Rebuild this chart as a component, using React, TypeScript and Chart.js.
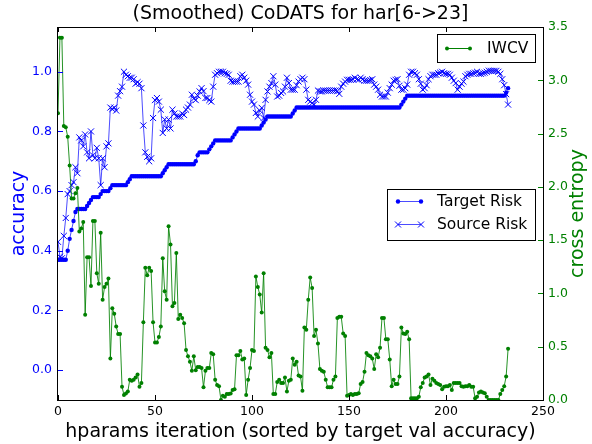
import { useEffect, useRef } from "react";
import { Chart, registerables } from "chart.js";
Chart.register(...registerables);

const TITLE = "(Smoothed) CoDATS for har[6->23]";
const X_LABEL = "hparams iteration (sorted by target val accuracy)";
const Y_LABEL = "accuracy";
const Y2_LABEL = "cross entropy";
const X_TICKS = [0, 50, 100, 150, 200, 250];
const ACC_TICKS = [0.0, 0.2, 0.4, 0.6, 0.8, 1.0];
const CE_TICKS = [0.0, 0.5, 1.0, 1.5, 2.0, 2.5, 3.0, 3.5];

const TARGET_RISK = [
  0.37, 0.37, 0.37, 0.37, 0.37, 0.40, 0.44, 0.47, 0.50, 0.53,
  0.54, 0.54, 0.54, 0.54, 0.54, 0.55, 0.56, 0.57, 0.58, 0.58,
  0.58, 0.58, 0.59, 0.60, 0.60, 0.60, 0.60, 0.61, 0.62, 0.62,
  0.62, 0.62, 0.62, 0.62, 0.62, 0.62, 0.63, 0.64, 0.65, 0.65,
  0.65, 0.65, 0.65, 0.65, 0.65, 0.65, 0.65, 0.65, 0.65, 0.65,
  0.65, 0.65, 0.65, 0.65, 0.66, 0.67, 0.68, 0.69, 0.69, 0.69,
  0.69, 0.69, 0.69, 0.69, 0.69, 0.69, 0.69, 0.69, 0.69, 0.69,
  0.69, 0.70, 0.72, 0.73, 0.73, 0.73, 0.73, 0.73, 0.74, 0.75,
  0.76, 0.77, 0.77, 0.77, 0.77, 0.77, 0.77, 0.77, 0.77, 0.77,
  0.78, 0.79, 0.80, 0.81, 0.81, 0.81, 0.81, 0.81, 0.81, 0.81,
  0.81, 0.81, 0.81, 0.81, 0.81, 0.82, 0.83, 0.84, 0.85, 0.85,
  0.85, 0.85, 0.85, 0.85, 0.85, 0.85, 0.85, 0.85, 0.85, 0.85,
  0.85, 0.86, 0.87, 0.88, 0.88, 0.88, 0.88, 0.88, 0.88, 0.88,
  0.88, 0.88, 0.88, 0.88, 0.88, 0.88, 0.88, 0.88, 0.88, 0.88,
  0.88, 0.88, 0.88, 0.88, 0.88, 0.88, 0.88, 0.88, 0.88, 0.88,
  0.88, 0.88, 0.88, 0.88, 0.88, 0.88, 0.88, 0.88, 0.88, 0.88,
  0.88, 0.88, 0.88, 0.88, 0.88, 0.88, 0.88, 0.88, 0.88, 0.88,
  0.88, 0.88, 0.88, 0.88, 0.88, 0.88, 0.88, 0.89, 0.90, 0.91,
  0.92, 0.92, 0.92, 0.92, 0.92, 0.92, 0.92, 0.92, 0.92, 0.92,
  0.92, 0.92, 0.92, 0.92, 0.92, 0.92, 0.92, 0.92, 0.92, 0.92,
  0.92, 0.92, 0.92, 0.92, 0.92, 0.92, 0.92, 0.92, 0.92, 0.92,
  0.92, 0.92, 0.92, 0.92, 0.92, 0.92, 0.92, 0.92, 0.92, 0.92,
  0.92, 0.92, 0.92, 0.92, 0.92, 0.92, 0.92, 0.92, 0.92, 0.92,
  0.92, 0.93, 0.945,
];

const SOURCE_RISK = [
  0.43, 0.38, 0.375, 0.45, 0.51, 0.59, 0.60, 0.62, 0.63, 0.68,
  0.66, 0.78, 0.77, 0.75, 0.79, 0.73, 0.71, 0.80, 0.72, 0.71,
  0.745, 0.71, 0.62, 0.71, 0.68, 0.75, 0.76, 0.88, 0.875, 0.88,
  0.87, 0.92, 0.935, 0.95, 1.00, 0.99, 0.985, 0.98, 0.98, 0.975,
  0.96, 0.965, 0.96, 0.945, 0.82, 0.73, 0.715, 0.70, 0.71, 0.845,
  0.905, 0.912, 0.90, 0.873, 0.795, 0.84, 0.81, 0.84, 0.81, 0.873,
  0.86, 0.85, 0.85, 0.85, 0.86, 0.855, 0.873, 0.88, 0.89, 0.923,
  0.91, 0.905, 0.92, 0.934, 0.945, 0.935, 0.912, 0.912, 0.905, 0.90,
  0.95, 0.99, 0.995, 1.00, 1.00, 1.00, 0.995, 0.993, 0.99, 0.97,
  0.967, 0.967, 0.967, 0.967, 0.985, 0.99, 0.98, 0.97, 0.957, 0.923,
  0.90, 0.89, 0.862, 0.85, 0.87, 0.879, 0.845, 0.906, 0.934, 0.95,
  0.962, 0.985, 0.957, 0.917, 0.92, 0.929, 0.934, 0.95, 0.98, 0.962,
  0.94, 0.94, 0.94, 0.955, 0.967, 0.975, 0.98, 0.975, 0.94, 0.906,
  0.90, 0.895, 0.89, 0.906, 0.937, 0.934, 0.934, 0.937, 0.937, 0.937,
  0.937, 0.937, 0.937, 0.937, 0.935, 0.926, 0.95, 0.96, 0.967, 0.973,
  0.973, 0.973, 0.975, 0.98, 0.975, 0.973, 0.98, 0.975, 0.97, 0.97,
  0.97, 0.972, 0.975, 0.957, 0.95, 0.94, 0.923, 0.917, 0.917, 0.917,
  0.93, 0.945, 0.957, 0.97, 0.973, 0.975, 0.953, 0.94, 0.94, 0.945,
  0.957, 0.99, 1.00, 1.00, 0.995, 0.99, 0.975, 0.96, 0.94, 0.945,
  0.955, 0.975, 0.985, 0.99, 0.99, 0.99, 0.995, 0.997, 1.00, 0.995,
  0.993, 0.993, 0.99, 0.98, 0.97, 0.962, 0.94, 0.95, 0.96, 0.967,
  0.985, 0.99, 0.993, 0.993, 0.995, 0.997, 1.00, 0.993, 0.993, 0.995,
  0.997, 1.00, 1.003, 1.003, 1.003, 1.003, 1.003, 1.00, 0.993, 0.975,
  0.955, 0.925, 0.89,
];

const IWCV = [
  2.69, 3.40, 3.40, 2.57, 2.56, 2.47, 2.20, 1.89, 1.89, 1.94,
  1.99, 1.58, 1.61, 1.67, 0.80, 1.34, 1.34, 1.07, 1.68, 1.68,
  1.19, 1.09, 1.57, 0.94, 1.06, 1.09, 1.14, 0.39, 0.86, 0.81,
  0.69, 0.62, 0.62, 0.125, 0.047, 0.06, 0.08, 0.19, 0.18, 0.19,
  0.21, 0.24, 0.125, 0.16, 0.73, 1.24, 1.17, 1.24, 1.21, 0.73,
  0.54, 0.54, 0.59, 0.69, 1.33, 1.02, 0.94, 1.63, 1.46, 0.88,
  0.91, 1.38, 0.76, 0.80, 0.77, 0.72, 0.47, 0.41, 0.36, 0.275,
  0.41, 0.28, 0.31, 0.31, 0.30, 0.12, 0.275, 0.30, 0.30, 0.44,
  0.43, 0.19, 0.14, 0.13, 0.0, 0.04, 0.03, 0.056, 0.056, 0.06,
  0.094, 0.10, 0.42, 0.42, 0.46, 0.38, 0.39, 0.047, 0.19, 0.30,
  0.47, 0.46, 1.16, 1.06, 0.99, 0.82, 1.19, 0.49, 0.47, 0.40,
  0.44, 0.056, 0.056, 0.17, 0.19, 0.16, 0.16, 0.21, 0.08, 0.18,
  0.19, 0.39, 0.33, 0.36, 0.23, 0.22, 0.087, 0.68, 0.66, 0.94,
  1.15, 1.05, 0.60, 0.66, 0.53, 0.29, 0.275, 0.265, 0.19, 0.12,
  0.12, 0.12, 0.19, 0.22, 0.77, 0.78, 0.78, 0.625, 0.60, 0.04,
  0.047, 0.056, 0.047, 0.056, 0.056, 0.063, 0.15, 0.17, 0.265, 0.44,
  0.42, 0.41, 0.39, 0.29, 0.43, 0.40, 0.49, 0.77, 0.77, 0.57,
  0.57, 0.38, 0.13, 0.19, 0.15, 0.15, 0.22, 0.68, 0.625, 0.62,
  0.64, 0.57, 0.016, 0.016, 0.016, 0.016, 0.03, 0.12, 0.16, 0.21,
  0.22, 0.24, 0.14, 0.20, 0.18, 0.16, 0.15, 0.14, 0.10, 0.125,
  0.13, 0.13, 0.14, 0.094, 0.16, 0.16, 0.16, 0.16, 0.13, 0.125,
  0.13, 0.13, 0.14, 0.125, 0.125, 0.016, 0.03, 0.07, 0.08, 0.07,
  0.063, 0.03, 0.0, 0.0, 0.0, 0.0, 0.0, 0.0, 0.056, 0.094,
  0.13, 0.22, 0.48,
];

const BLUE = "#0000ff";
const GREEN = "#008000";
const FONT = '"DejaVu Sans", sans-serif';

const toPoints = (arr: number[]) => arr.map((v, i) => ({ x: i, y: v }));

const decor = {
  id: "decor",
  beforeDraw(chart: any) {
    const ctx = chart.ctx;
    ctx.save();
    ctx.fillStyle = "#ffffff";
    ctx.fillRect(0, 0, chart.width, chart.height);
    ctx.restore();
  },
  afterDraw(chart: any) {
    const ctx = chart.ctx;
    const { left, right, top, bottom } = chart.chartArea;
    const xs = chart.scales.x;
    const ys = chart.scales.y;
    const y2 = chart.scales.y2;
    ctx.save();
    // ticks inward
    ctx.lineWidth = 1;
    ctx.strokeStyle = "#000";
    X_TICKS.forEach((v) => {
      const px = Math.round(xs.getPixelForValue(v)) + 0.5;
      ctx.beginPath();
      ctx.moveTo(px, bottom);
      ctx.lineTo(px, bottom - 5);
      ctx.moveTo(px, top);
      ctx.lineTo(px, top + 5);
      ctx.stroke();
    });
    ctx.strokeStyle = BLUE;
    ACC_TICKS.forEach((v) => {
      const py = Math.round(ys.getPixelForValue(v)) + 0.5;
      ctx.beginPath();
      ctx.moveTo(left, py);
      ctx.lineTo(left + 5, py);
      ctx.stroke();
    });
    ctx.strokeStyle = GREEN;
    CE_TICKS.forEach((v) => {
      const py = Math.round(y2.getPixelForValue(v)) + 0.5;
      ctx.beginPath();
      ctx.moveTo(right, py);
      ctx.lineTo(right - 5, py);
      ctx.stroke();
    });
    // frame
    ctx.strokeStyle = "#000";
    ctx.strokeRect(left - 0.5, top + 0.5, right - left + 1, bottom - top);

    // title
    ctx.fillStyle = "#000";
    ctx.textAlign = "center";
    ctx.textBaseline = "middle";
    ctx.font = `19px ${FONT}`;
    ctx.fillText(TITLE, (left + right) / 2, 14);
    ctx.fillText(X_LABEL, (left + right) / 2, 432);

    // axis titles
    ctx.save();
    ctx.translate(19, (top + bottom) / 2);
    ctx.rotate(-Math.PI / 2);
    ctx.fillStyle = BLUE;
    ctx.fillText(Y_LABEL, 0, 0);
    ctx.restore();
    ctx.save();
    ctx.translate(578, (top + bottom) / 2);
    ctx.rotate(-Math.PI / 2);
    ctx.fillStyle = GREEN;
    ctx.fillText(Y2_LABEL, 0, 0);
    ctx.restore();

    // legends
    const dot = (x: number, y: number, r: number, c: string) => {
      ctx.beginPath();
      ctx.arc(x, y, r, 0, Math.PI * 2);
      ctx.fillStyle = c;
      ctx.fill();
    };
    const cross = (x: number, y: number, r: number, c: string) => {
      ctx.beginPath();
      ctx.strokeStyle = c;
      ctx.moveTo(x - r, y - r);
      ctx.lineTo(x + r, y + r);
      ctx.moveTo(x - r, y + r);
      ctx.lineTo(x + r, y - r);
      ctx.stroke();
    };
    ctx.font = `15.5px ${FONT}`;
    ctx.textAlign = "left";
    // IWCV legend
    ctx.fillStyle = "#fff";
    ctx.fillRect(437.5, 34.5, 98, 28);
    ctx.strokeStyle = "#000";
    ctx.strokeRect(437.5, 34.5, 98, 28);
    ctx.strokeStyle = GREEN;
    ctx.beginPath();
    ctx.moveTo(447, 48.5);
    ctx.lineTo(470, 48.5);
    ctx.stroke();
    dot(447, 48.5, 2, GREEN);
    dot(470, 48.5, 2, GREEN);
    ctx.fillStyle = "#000";
    ctx.fillText(chart.data.datasets[0].label, 487, 49);
    // risk legend
    ctx.fillStyle = "#fff";
    ctx.fillRect(387.5, 189.5, 148, 51);
    ctx.strokeStyle = "#000";
    ctx.strokeRect(387.5, 189.5, 148, 51);
    ctx.strokeStyle = "rgba(0,0,255,0.7)";
    ctx.beginPath();
    ctx.moveTo(398, 201.5);
    ctx.lineTo(421, 201.5);
    ctx.moveTo(398, 224.5);
    ctx.lineTo(421, 224.5);
    ctx.stroke();
    dot(398, 201.5, 2.2, BLUE);
    dot(421, 201.5, 2.2, BLUE);
    cross(398, 224.5, 3, BLUE);
    cross(421, 224.5, 3, BLUE);
    ctx.fillStyle = "#000";
    ctx.fillText(chart.data.datasets[2].label, 437, 202);
    ctx.fillText(chart.data.datasets[1].label, 437, 225);
    ctx.restore();
  },
};

export default function App() {
  const ref = useRef<HTMLCanvasElement>(null);
  useEffect(() => {
    if (!ref.current) return;
    const chart = new Chart(ref.current, {
      type: "line",
      data: {
        datasets: [
          {
            label: "IWCV",
            data: toPoints(IWCV),
            yAxisID: "y2",
            borderColor: "rgba(0,128,0,0.85)",
            borderWidth: 1,
            pointRadius: 2,
            pointBackgroundColor: GREEN,
            pointBorderColor: GREEN,
            pointBorderWidth: 0,
            tension: 0,
          },
          {
            label: "Source Risk",
            data: toPoints(SOURCE_RISK),
            yAxisID: "y",
            borderColor: "rgba(0,0,255,0.7)",
            borderWidth: 1,
            pointStyle: "crossRot",
            pointRadius: 4.3,
            pointBorderColor: BLUE,
            pointBackgroundColor: BLUE,
            pointBorderWidth: 1,
            tension: 0,
          },
          {
            label: "Target Risk",
            data: toPoints(TARGET_RISK),
            yAxisID: "y",
            borderColor: "rgba(0,0,255,0.7)",
            borderWidth: 1,
            pointRadius: 2.2,
            pointBackgroundColor: BLUE,
            pointBorderColor: BLUE,
            pointBorderWidth: 0,
            tension: 0,
          },
        ],
      } as any,
      options: {
        animation: false,
        responsive: false,
        devicePixelRatio: 1,
        layout: { padding: { top: 27, left: 0, right: 0, bottom: 0 } },
        plugins: {
          legend: { display: false },
          title: { display: false },
          tooltip: { enabled: false },
        },
        scales: {
          x: {
            type: "linear",
            min: 0,
            max: 250,
            afterBuildTicks: (s: any) => {
              s.ticks = X_TICKS.map((v) => ({ value: v }));
            },
            afterFit: (s: any) => {
              s.height = 44;
            },
            grid: { display: false, drawTicks: false },
            border: { display: false },
            ticks: {
              color: "#000",
              font: { family: FONT, size: 12.5 },
              padding: 4,
              maxRotation: 0,
              autoSkip: false,
              callback: (v: any) => String(v),
            },
          },
          y: {
            type: "linear",
            position: "left",
            min: -0.1,
            max: 1.15,
            afterBuildTicks: (s: any) => {
              s.ticks = ACC_TICKS.map((v) => ({ value: v }));
            },
            afterFit: (s: any) => {
              s.width = 58;
            },
            grid: { display: false, drawTicks: false },
            border: { display: false },
            ticks: {
              color: BLUE,
              font: { family: FONT, size: 12.5 },
              padding: 6,
              autoSkip: false,
              callback: (v: any) => Number(v).toFixed(1),
            },
          },
          y2: {
            type: "linear",
            position: "right",
            min: 0,
            max: 3.5,
            afterBuildTicks: (s: any) => {
              s.ticks = CE_TICKS.map((v) => ({ value: v }));
            },
            afterFit: (s: any) => {
              s.width = 49;
            },
            grid: { display: false, drawTicks: false },
            border: { display: false },
            ticks: {
              color: GREEN,
              font: { family: FONT, size: 12.5 },
              padding: 5,
              autoSkip: false,
              callback: (v: any) => Number(v).toFixed(1),
            },
          },
        },
      } as any,
      plugins: [decor],
    });
    return () => chart.destroy();
  }, []);
  return (
    <div style={{ position: "fixed", left: 0, top: 0, width: 592, height: 444, background: "#fff" }}>
      <canvas ref={ref} width={592} height={444} style={{ display: "block", width: 592, height: 444 }} />
    </div>
  );
}
